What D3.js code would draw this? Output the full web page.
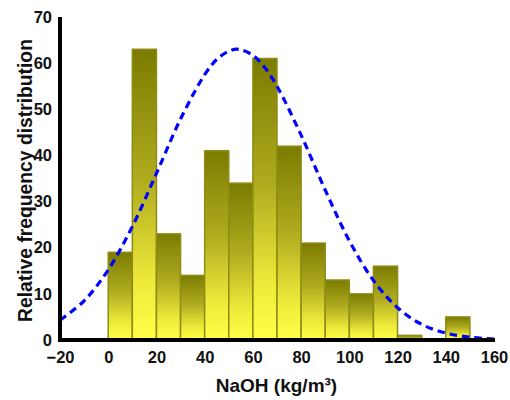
<!DOCTYPE html>
<html>
<head>
<meta charset="utf-8">
<script src="https://cdn.jsdelivr.net/npm/d3@7"></script>
<style>
  html, body { margin: 0; padding: 0; background: #fff; }
  svg { display: block; font-family: "Liberation Sans", Arial, sans-serif; }
</style>
</head>
<body>
<svg id="chart" width="510" height="400"></svg>
<script>
// Histogram bins (NaOH kg/m3): start of each 10-wide bin
const binStarts = [0, 10, 20, 30, 40, 50, 60, 70, 80, 90, 100, 110, 120, 130, 140];
const binCounts = [19, 63, 23, 14, 41, 34, 61, 42, 21, 13, 10, 16, 1, 0, 5];
const binWidth = 10;

// Fitted normal curve
const curveX = [-20, -10, 0, 10, 20, 30, 40, 45, 50, 54, 60, 65, 70, 80, 90, 100, 110, 120, 130, 140, 150, 160];
const curveY = [4.3, 8.5, 15.2, 24.6, 36.1, 47.9, 57.5, 60.8, 62.6, 63.0, 61.7, 59.0, 55.0, 44.4, 32.5, 21.5, 12.9, 7.0, 3.4, 1.5, 0.6, 0.2];

const xTicks = [-20, 0, 20, 40, 60, 80, 100, 120, 140, 160];
const yTicks = [0, 10, 20, 30, 40, 50, 60, 70];

const xTitle = "NaOH (kg/m³)";
const yTitle = "Relative frequency distribution";

const svg = d3.select("#chart");

const x = d3.scaleLinear().domain([-20, 160]).range([60, 494]);
const y = d3.scaleLinear().domain([0, 70]).range([340, 17]);

// gradient
const defs = svg.append("defs");
const grad = defs.append("linearGradient")
  .attr("id", "barGrad").attr("x1", 0).attr("y1", 0).attr("x2", 0).attr("y2", 1);
grad.append("stop").attr("offset", "0%").attr("stop-color", "#7b7b00");
grad.append("stop").attr("offset", "45%").attr("stop-color", "#b0ac20");
grad.append("stop").attr("offset", "80%").attr("stop-color", "#eeea3a");
grad.append("stop").attr("offset", "100%").attr("stop-color", "#ffff48");

const bins = binStarts.map((s, i) => ({ s, v: binCounts[i] })).filter(d => d.v > 0);

svg.append("g").selectAll("rect")
  .data(bins)
  .join("rect")
  .attr("x", d => x(d.s))
  .attr("width", d => x(d.s + binWidth) - x(d.s))
  .attr("y", d => y(d.v))
  .attr("height", d => y(0) - y(d.v))
  .attr("fill", "url(#barGrad)")
  .attr("stroke", "#8e8c14")
  .attr("stroke-width", 1.5);

// curve
const line = d3.line()
  .x((d, i) => x(curveX[i]))
  .y(d => y(d))
  .curve(d3.curveCatmullRom);

svg.append("path")
  .datum(curveY)
  .attr("d", line)
  .attr("fill", "none")
  .attr("stroke", "#0000ff")
  .attr("stroke-width", 3.2)
  .attr("stroke-dasharray", "7.5,5");

// axes
const xAxis = d3.axisBottom(x).tickValues(xTicks).tickSize(0).tickPadding(11).tickSizeOuter(0);
const yAxis = d3.axisLeft(y).tickValues(yTicks).tickSize(0).tickPadding(8).tickSizeOuter(0);

const gx = svg.append("g").attr("transform", "translate(0,340)").call(xAxis);
const gy = svg.append("g").attr("transform", "translate(60,0)").call(yAxis);

[gx, gy].forEach(g => {
  g.select(".domain").attr("stroke", "#000").attr("stroke-width", 4);
  g.selectAll("text")
    .attr("fill", "#111")
    .style("font-size", "16.5px")
    .style("font-weight", "bold")
    .style("font-family", "'Liberation Sans', Arial, sans-serif");
});
gx.select(".domain").attr("d", `M${x(-20) - 2},0H${x(160) + 1}`);
gy.select(".domain").attr("d", `M0,${y(70)}V${y(0) + 2}`);

// titles
svg.append("text")
  .attr("x", 276.5)
  .attr("y", 392)
  .attr("text-anchor", "middle")
  .style("font-size", "19px")
  .style("font-weight", "bold")
  .attr("fill", "#111")
  .text(xTitle);

svg.append("text")
  .attr("transform", "translate(32,180.5) rotate(-90)")
  .attr("text-anchor", "middle")
  .style("font-size", "19.3px")
  .style("font-weight", "bold")
  .attr("fill", "#111")
  .text(yTitle);
</script>
</body>
</html>
